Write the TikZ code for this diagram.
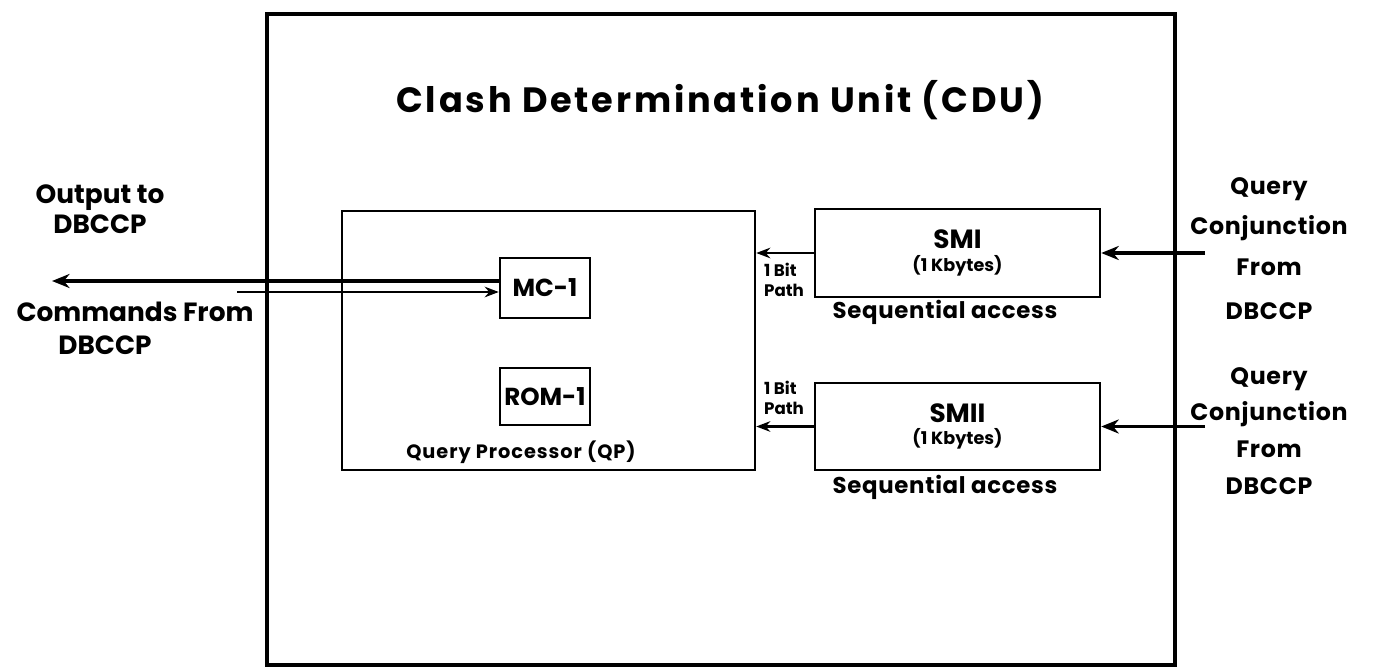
\documentclass[tikz,border=0pt]{standalone}
\usepackage{fontspec}
\setmainfont{Poppins}
\usetikzlibrary{arrows.meta, positioning}

\tikzset{
  unit/.style={draw, line width=1.4pt, inner sep=0pt, align=center},
  bus/.style={line width=2pt, -{Stealth[length=10pt, width=8pt]}},
  wire/.style={line width=1.6pt, -{Stealth[length=8pt, width=6pt]}},
  txt/.style={font=\bfseries\fontsize{15}{17}\selectfont, inner sep=0pt, align=center},
  small/.style={font=\bfseries\fontsize{9.5}{11}\selectfont, inner sep=0pt, align=left},
}

\begin{document}
\begin{tikzpicture}
        \useasboundingbox (0,0) rectangle (27.76,13.38);

        % --- Clash Determination Unit ---
        \node[draw, line width=2.2pt, minimum width=18.16cm, minimum height=13.02cm] (cdu) at (14.42,6.59) {};
        \node[font=\bfseries\fontsize{20}{24}\selectfont\addfontfeature{LetterSpace=8}] (title) at (14.4,11.38) {Clash Determination Unit (CDU)};

        % --- Query Processor ---
        \node[unit, minimum width=8.26cm, minimum height=5.18cm] (qp) at (10.97,6.57) {};
        \node[unit, minimum width=1.8cm, minimum height=1.2cm, font=\bfseries\fontsize{14}{16}\selectfont] (mc) at (10.9,7.62) {MC-1};
        \node[unit, minimum width=1.8cm, minimum height=1.14cm, font=\bfseries\fontsize{14}{16}\selectfont] (rom) at (10.9,5.45) {ROM-1};
        \node[txt, font=\bfseries\fontsize{11}{13}\selectfont\addfontfeature{LetterSpace=5}] (qplbl) at (10.42,4.34) {Query Processor (QP)};

        % --- Sequential memories ---
        \node[unit, minimum width=5.7cm, minimum height=1.76cm] (smi) at (19.15,8.32)
            {{\bfseries\fontsize{15}{17}\selectfont SMI}\\[1pt]{\bfseries\fontsize{10}{12}\selectfont (1 Kbytes)}};
        \node[unit, minimum width=5.7cm, minimum height=1.74cm] (smii) at (19.15,4.85)
            {{\bfseries\fontsize{15}{17}\selectfont SMII}\\[1pt]{\bfseries\fontsize{10}{12}\selectfont (1 Kbytes)}};
        \node[txt, font=\bfseries\fontsize{13}{15}\selectfont\addfontfeature{LetterSpace=3}] (seqa) at (18.9,7.14) {Sequential access};
        \node[txt, font=\bfseries\fontsize{13}{15}\selectfont\addfontfeature{LetterSpace=3}] (seqb) at (18.9,3.64) {Sequential access};

        % --- 1 bit paths ---
        \draw[wire] (smi.west) -- (smi.west -| qp.east);
        \draw[wire] (smii.west) -- (smii.west -| qp.east);
        \node[small] (bita) at (15.68,7.78) {1 Bit\\Path};
        \node[small] (bitb) at (15.68,5.42) {1 Bit\\Path};

        % --- Query conjunction inputs ---
        \coordinate (qa) at (24.1,8.32);
        \coordinate (qb) at (24.1,4.85);
        \draw[bus] (qa) -- (smi.east);
        \draw[bus] (qb) -- (smii.east);
        \node[txt, font=\bfseries\fontsize{13.5}{23}\selectfont\addfontfeature{LetterSpace=3}] (qca) at (25.38,8.41) {Query\\Conjunction\\From\\[2pt]DBCCP};
        \node[txt, font=\bfseries\fontsize{13.5}{21}\selectfont\addfontfeature{LetterSpace=3}] (qcb) at (25.38,4.76) {Query\\Conjunction\\From\\DBCCP};

        % --- DBCCP link ---
        \coordinate (outend) at (1.04,7.76);
        \coordinate (cmdstart) at (4.74,7.54);
        \draw[bus] ([yshift=0.14cm]mc.west) -- (outend);
        \draw[wire] (cmdstart) -- ([yshift=-0.08cm]mc.west);
        \node[txt] (outlbl) at (2.0,9.2) {Output to\\DBCCP};
        \node[txt] (cmdlbl) at (2.7,7.14) {Commands From};
        \node[txt] (cmdsrc) at (2.1,6.48) {DBCCP};
    \end{tikzpicture}
\end{document}
